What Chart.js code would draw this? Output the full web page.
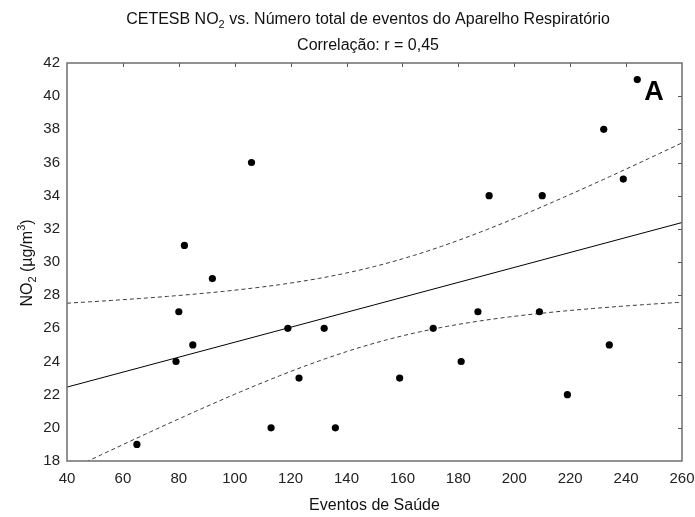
<!DOCTYPE html>
<html>
<head>
<meta charset="utf-8">
<script src="https://cdn.jsdelivr.net/npm/chart.js@4/dist/chart.umd.min.js"></script>
<style>
  html, body { margin: 0; padding: 0; background: #fff; }
  #wrap { width: 695px; height: 517px; position: relative; }
</style>
</head>
<body>
<div id="wrap"><canvas id="c"></canvas></div>
<script>
// ---- data ----
const eventos = [65, 79, 80, 82, 85, 92, 106, 113, 119, 123, 132, 136, 159, 171, 181, 187, 191, 209, 210, 219, 232, 234, 239, 244];
const no2     = [19, 24, 27, 31, 25, 29, 36, 20, 26, 23, 26, 20, 23, 26, 24, 27, 34, 27, 34, 22, 38, 25, 35, 41];
const xTicks = [40, 60, 80, 100, 120, 140, 160, 180, 200, 220, 240, 260];
const yTicks = [18, 20, 22, 24, 26, 28, 30, 32, 34, 36, 38, 40, 42];
// rich text pieces: [text, kind] where kind is 'n' normal, 'sub', 'sup'
const titleLine1 = [['CETESB NO', 'n'], ['2', 'sub'], [' vs. N\u00famero total de eventos do Aparelho Respirat\u00f3rio', 'n']];
const titleLine2 = [['Correla\u00e7\u00e3o: r = 0,45', 'n']];
const yTitle = [['NO', 'n'], ['2', 'sub'], [' (\u00b5g/m', 'n'], ['3', 'sup'], [')', 'n']];
const xTitle = 'Eventos de Sa\u00fade';
const panelLabel = 'A';
const T_CRIT = 2.074; // Student t, 95%, df = 22

// ---- linear fit and 95% confidence band from the data ----
const n = eventos.length;
const mx = eventos.reduce((a, b) => a + b, 0) / n;
const my = no2.reduce((a, b) => a + b, 0) / n;
let sxx = 0, sxy = 0, syy = 0;
for (let i = 0; i < n; i++) {
  const dx = eventos[i] - mx, dy = no2[i] - my;
  sxx += dx * dx; sxy += dx * dy; syy += dy * dy;
}
const slope = sxy / sxx;
const icpt = my - slope * mx;
const sRes = Math.sqrt((syy - slope * sxy) / (n - 2));
const fit = x => icpt + slope * x;
const half = x => T_CRIT * sRes * Math.sqrt(1 / n + (x - mx) * (x - mx) / sxx);
const xs = [];
for (let x = xTicks[0]; x <= xTicks[xTicks.length - 1]; x += 2) xs.push(x);
const fitLine = [xTicks[0], xTicks[xTicks.length - 1]].map(x => ({ x, y: fit(x) }));
const upper = xs.map(x => ({ x, y: fit(x) + half(x) }));
const lower = xs.map(x => ({ x, y: fit(x) - half(x) }));
const points = eventos.map((x, i) => ({ x, y: no2[i] }));

const FONT = '"Liberation Sans", Arial, sans-serif';

function drawRich(ctx, parts, cx, baseY, size) {
  const fontFor = k => (k === 'n' ? size : Math.round(size * 0.7)) + 'px ' + FONT;
  let total = 0;
  parts.forEach(([t, k]) => { ctx.font = fontFor(k); total += ctx.measureText(t).width; });
  let x = cx - total / 2;
  ctx.textAlign = 'left';
  ctx.textBaseline = 'alphabetic';
  parts.forEach(([t, k]) => {
    ctx.font = fontFor(k);
    const dy = k === 'sub' ? size * 0.28 : (k === 'sup' ? -size * 0.42 : 0);
    ctx.fillText(t, x, baseY + dy);
    x += ctx.measureText(t).width;
  });
}

const textPlugin = {
  id: 'richText',
  afterDraw(chart) {
    const { ctx, chartArea: a } = chart;
    ctx.save();
    ctx.fillStyle = '#111';
    const cx = 368;
    drawRich(ctx, titleLine1, cx, 24, 16);
    drawRich(ctx, titleLine2, cx, 50, 16);
    ctx.translate(32, (a.top + a.bottom) / 2 + 1);
    ctx.rotate(-Math.PI / 2);
    drawRich(ctx, yTitle, 0, 0, 16);
    ctx.restore();
  }
};

const framePlugin = {
  id: 'frame',
  afterDatasetsDraw(chart) {
    const { ctx, chartArea: a, scales } = chart;
    ctx.save();
    ctx.strokeStyle = '#555';
    ctx.lineWidth = 1;
    ctx.beginPath();
    xTicks.slice(1, -1).forEach(v => {
      const px = Math.round(scales.x.getPixelForValue(v)) + 0.5;
      ctx.moveTo(px, a.top); ctx.lineTo(px, a.top + 4);
    });
    yTicks.slice(1, -1).forEach(v => {
      const py = Math.round(scales.y.getPixelForValue(v)) + 0.5;
      ctx.moveTo(a.right, py); ctx.lineTo(a.right - 4, py);
    });
    ctx.stroke();
    ctx.strokeStyle = '#6e6e6e';
    ctx.lineWidth = 1.5;
    ctx.strokeRect(a.left, a.top, a.right - a.left, a.bottom - a.top);
    ctx.fillStyle = '#000';
    ctx.font = 'bold 27px ' + FONT;
    ctx.textAlign = 'center';
    ctx.textBaseline = 'alphabetic';
    ctx.fillText(panelLabel, a.right - 28, a.top + 37);
    ctx.restore();
  }
};

new Chart(document.getElementById('c'), {
  type: 'scatter',
  data: {
    datasets: [
      { label: 'dados', data: points, backgroundColor: '#000', borderColor: '#000', pointRadius: 3.6, pointBorderWidth: 0, order: 0 },
      { label: 'ajuste', data: fitLine, type: 'line', showLine: true, borderColor: '#000', borderWidth: 1, pointRadius: 0, fill: false, order: 1 },
      { label: 'IC sup', data: upper, type: 'line', showLine: true, borderColor: '#3a3a3a', borderWidth: 1, borderDash: [4, 3], pointRadius: 0, fill: false, order: 1 },
      { label: 'IC inf', data: lower, type: 'line', showLine: true, borderColor: '#3a3a3a', borderWidth: 1, borderDash: [4, 3], pointRadius: 0, fill: false, order: 1 }
    ]
  },
  options: {
    responsive: true,
    maintainAspectRatio: false,
    animation: false,
    layout: { padding: { top: 63, right: 13, bottom: 0, left: 0 } },
    plugins: {
      legend: { display: false },
      tooltip: { enabled: false },
      title: { display: false }
    },
    scales: {
      x: {
        type: 'linear',
        min: xTicks[0], max: xTicks[xTicks.length - 1],
        afterBuildTicks: s => { s.ticks = xTicks.map(v => ({ value: v })); },
        afterFit: s => { s.height = 56; s.paddingLeft = 0; s.paddingRight = 0; },
        grid: { display: false, drawTicks: false },
        border: { display: false },
        ticks: { color: '#222', padding: 9, maxRotation: 0, autoSkip: false, font: { family: FONT, size: 15 } },
        title: { display: true, text: xTitle, color: '#111', padding: { top: 0, bottom: 2 }, font: { family: FONT, size: 16, lineHeight: 1.2 } }
      },
      y: {
        type: 'linear',
        min: yTicks[0], max: yTicks[yTicks.length - 1],
        afterBuildTicks: s => { s.ticks = yTicks.map(v => ({ value: v })); },
        afterFit: s => { s.width = 67; s.paddingTop = 0; s.paddingBottom = 0; },
        grid: { display: false, drawTicks: false },
        border: { display: false },
        ticks: { color: '#222', padding: 7, autoSkip: false, font: { family: FONT, size: 15 } },
        title: { display: false }
      }
    }
  },
  plugins: [framePlugin, textPlugin]
});
</script>
</body>
</html>
